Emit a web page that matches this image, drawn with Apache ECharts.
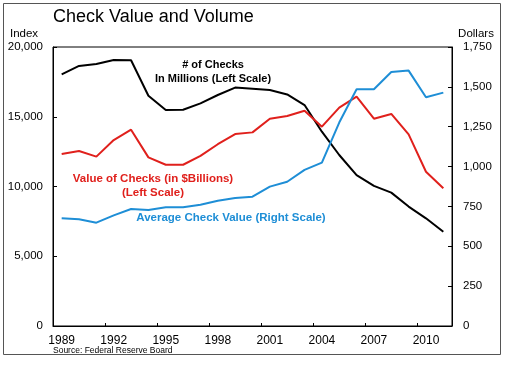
<!DOCTYPE html>
<html><head><meta charset="utf-8">
<script src="https://cdn.jsdelivr.net/npm/echarts@6/dist/echarts.min.js"></script>
<style>html,body{margin:0;padding:0;background:#fff}#c{width:510px;height:366px}</style>
</head><body><div id="c"></div>
<script>
const years = ['1989','1990','1991','1992','1993','1994','1995','1996','1997','1998','1999','2000','2001','2002','2003','2004','2005','2006','2007','2008','2009','2010','2011'];
const numChecks = [18040,18640,18780,19070,19050,16510,15480,15500,15960,16560,17090,17010,16920,16600,15840,13930,12260,10820,10040,9560,8560,7720,6760];
const valueChecks = [12330,12540,12140,13330,14070,12090,11560,11560,12190,13030,13760,13880,14860,15050,15430,14290,15650,16440,14860,15200,13740,11060,9870];
const avgCheck = [676,669,648,694,734,728,745,745,761,786,803,811,874,905,979,1025,1276,1485,1485,1593,1602,1435,1464];
const leftTicks = {min:0, max:20000, interval:5000};
const rightTicks = {min:0, max:1750, interval:250};

const FONT = '"Liberation Sans", Arial, sans-serif';
const chart = echarts.init(document.getElementById('c'));
const fmt = v => v.toLocaleString('en-US');
chart.setOption({
  animation:false,
  backgroundColor:'#fff',
  textStyle:{fontFamily:FONT},
  grid:{left:53,right:58,top:47,bottom:40,show:true,borderColor:'#000',borderWidth:1},
  xAxis:{type:'category',data:years,boundaryGap:true,
    axisLine:{lineStyle:{color:'#000',width:1}},
    axisTick:{show:true,interval:2,length:3,inside:true,lineStyle:{color:'#000'}},
    axisLabel:{interval:2,color:'#000',fontSize:12,margin:9,fontFamily:FONT}},
  yAxis:[
    {type:'value',min:leftTicks.min,max:leftTicks.max,interval:leftTicks.interval,
     axisLine:{show:true,lineStyle:{color:'#000'}},axisTick:{show:true,inside:true,length:4,lineStyle:{color:'#000'}},
     splitLine:{show:false},
     axisLabel:{color:'#000',fontSize:11.5,margin:10,formatter:fmt,fontFamily:FONT}},
    {type:'value',min:rightTicks.min,max:rightTicks.max,interval:rightTicks.interval,position:'right',
     axisLine:{show:true,lineStyle:{color:'#000'}},axisTick:{show:true,inside:true,length:4,lineStyle:{color:'#000'}},
     splitLine:{show:false},
     axisLabel:{color:'#000',fontSize:11.5,margin:11,formatter:fmt,fontFamily:FONT}}
  ],
  series:[
    {name:'# of Checks',type:'line',data:numChecks,yAxisIndex:0,symbol:'none',lineStyle:{color:'#000',width:2},itemStyle:{color:'#000'}},
    {name:'Value of Checks',type:'line',data:valueChecks,yAxisIndex:0,symbol:'none',lineStyle:{color:'#e0201c',width:2},itemStyle:{color:'#e0201c'}},
    {name:'Average Check Value',type:'line',data:avgCheck,yAxisIndex:1,symbol:'none',lineStyle:{color:'#1e8ed6',width:2},itemStyle:{color:'#1e8ed6'}}
  ],
  graphic:[
    {type:'rect',shape:{x:3.5,y:3.5,width:497,height:351},style:{fill:'none',stroke:'#555',lineWidth:1}},
    {type:'text',left:53,top:8,style:{text:'Check Value and Volume',fill:'#000',font:'18px '+FONT}},
    {type:'text',x:24,y:28,style:{text:'Index',fill:'#000',font:'11.5px '+FONT,align:'center'}},
    {type:'text',x:476,y:28,style:{text:'Dollars',fill:'#000',font:'11.5px '+FONT,align:'center'}},
    {type:'text',left:53,top:346,style:{text:'Source: Federal Reserve Board',fill:'#000',font:'8.5px '+FONT}},
    {type:'text',x:213,y:58,style:{text:'# of Checks\nIn Millions (Left Scale)',fill:'#000',font:'bold 11px '+FONT,align:'center',lineHeight:14}},
    {type:'text',x:153,y:172,style:{text:'Value of Checks (in $Billions)\n(Left Scale)',fill:'#e0201c',font:'bold 11.5px '+FONT,align:'center',lineHeight:14}},
    {type:'text',x:231,y:212,style:{text:'Average Check Value (Right Scale)',fill:'#1e8ed6',font:'bold 11.5px '+FONT,align:'center'}}
  ]
});
</script></body></html>
